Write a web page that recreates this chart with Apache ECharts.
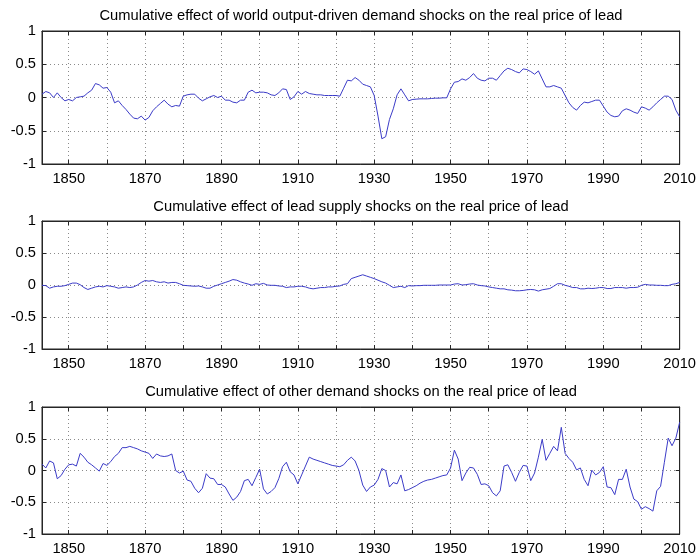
<!DOCTYPE html>
<html>
<head>
<meta charset="utf-8">
<script src="https://cdn.jsdelivr.net/npm/echarts@6/dist/echarts.min.js"></script>
<style>
html,body{margin:0;padding:0;background:#fff;}
#chart{width:699px;height:558px;}
</style>
</head>
<body>
<div id="chart"></div>
<script>
// Data: annual values, first year 1843, last year 2010
var startYear = 1843;
var endYear = 2010;

var titles = [
  'Cumulative effect of world output-driven demand shocks on the real price of lead',
  'Cumulative effect of lead supply shocks on the real price of lead',
  'Cumulative effect of other demand shocks on the real price of lead'
];

var yTicks = [-1, -0.5, 0, 0.5, 1];

var worldOutputDemand = [
  0.05, 0.09, 0.07, 0.00, 0.07, 0.00, -0.05,
  -0.03, -0.05, 0.00, 0.01, 0.02, 0.07, 0.11, 0.21, 0.19, 0.14,
  0.15, 0.08, -0.08, -0.05, -0.12, -0.18, -0.25, -0.31, -0.32, -0.28,
  -0.34, -0.30, -0.20, -0.14, -0.09, -0.04, -0.10, -0.14, -0.12, -0.13,
  0.02, 0.04, 0.05, 0.05, -0.01, -0.05, -0.02, 0.01, 0.03, 0.00,
  0.02, -0.04, -0.04, -0.07, -0.08, -0.04, -0.04, 0.08, 0.11, 0.07,
  0.08, 0.08, 0.07, 0.04, 0.03, 0.07, 0.13, 0.12, -0.03, 0.01,
  0.09, 0.05, 0.09, 0.06, 0.05, 0.04, 0.04, 0.03, 0.03, 0.03,
  0.03, 0.02, 0.14, 0.26, 0.25, 0.30, 0.26, 0.20, 0.18, 0.16,
  0.03, -0.28, -0.62, -0.59, -0.33, -0.17, 0.04, 0.13, 0.04, -0.05,
  -0.03, -0.025, -0.02, -0.02, -0.02, -0.015, -0.01, -0.01, -0.005, -0.005,
  0.13, 0.23, 0.24, 0.28, 0.26, 0.30, 0.36, 0.29, 0.26, 0.25,
  0.29, 0.29, 0.26, 0.33, 0.40, 0.44, 0.42, 0.39, 0.37, 0.43,
  0.42, 0.39, 0.35, 0.40, 0.28, 0.16, 0.16, 0.18, 0.16, 0.14,
  0.03, -0.08, -0.15, -0.19, -0.12, -0.07, -0.08, -0.06, -0.04, -0.04,
  -0.13, -0.22, -0.27, -0.29, -0.28, -0.20, -0.17, -0.19, -0.22, -0.24,
  -0.14, -0.16, -0.19, -0.14, -0.08, -0.03, 0.02, 0.02, -0.03, -0.19, -0.29
];

var leadSupply = [
  -0.005, -0.01, -0.05, -0.03, -0.02, -0.02, -0.01,
  0.01, 0.03, 0.03, 0.005, -0.04, -0.07, -0.05, -0.03, -0.02, -0.03,
  -0.01, -0.02, -0.03, -0.05, -0.04, -0.03, -0.04, -0.03, 0.00, 0.04,
  0.07, 0.06, 0.07, 0.05, 0.04, 0.05, 0.03, 0.04, 0.04, 0.02,
  -0.005, -0.01, -0.015, -0.02, -0.015, -0.03, -0.05, -0.05, -0.02, 0.00,
  0.02, 0.04, 0.06, 0.085, 0.075, 0.05, 0.03, 0.015, -0.005, 0.02,
  0.01, 0.025, 0.00, -0.005, -0.005, -0.015, -0.02, -0.04, -0.03, -0.03,
  -0.02, -0.02, -0.03, -0.05, -0.06, -0.05, -0.04, -0.04, -0.03, -0.03,
  -0.02, -0.015, 0.01, 0.02, 0.10, 0.12, 0.14, 0.16, 0.14, 0.12,
  0.10, 0.075, 0.05, 0.03, -0.005, -0.04, -0.03, -0.02, -0.04, -0.01,
  -0.015, -0.01, -0.01, -0.005, -0.005, -0.005, -0.005, 0.00, 0.00, 0.00,
  0.00, 0.015, 0.02, 0.00, 0.005, 0.015, 0.02, 0.00, -0.01, -0.015,
  -0.03, -0.04, -0.05, -0.06, -0.06, -0.075, -0.08, -0.09, -0.09, -0.085,
  -0.075, -0.07, -0.075, -0.095, -0.075, -0.065, -0.055, -0.02, 0.02, 0.02,
  -0.005, -0.02, -0.04, -0.04, -0.06, -0.06, -0.05, -0.055, -0.05, -0.04,
  -0.04, -0.055, -0.055, -0.04, -0.04, -0.04, -0.05, -0.04, -0.04, -0.035,
  -0.005, 0.01, 0.00, 0.00, -0.005, -0.005, -0.01, -0.01, 0.01, 0.02, 0.04
];

var otherDemand = [
  0.10, 0.04, 0.15, 0.12, -0.13, -0.08, 0.02,
  0.09, 0.10, 0.07, 0.27, 0.21, 0.13, 0.09, 0.04, -0.01, 0.11,
  0.08, 0.14, 0.22, 0.27, 0.36, 0.36, 0.38, 0.36, 0.34, 0.31,
  0.29, 0.27, 0.19, 0.26, 0.23, 0.22, 0.23, 0.26, 0.00, -0.04,
  -0.01, -0.15, -0.17, -0.28, -0.35, -0.28, -0.05, -0.12, -0.13, -0.22,
  -0.22, -0.26, -0.37, -0.47, -0.42, -0.33, -0.16, -0.14, -0.24, -0.11,
  0.02, -0.29, -0.37, -0.33, -0.27, -0.13, 0.06, 0.13, -0.02, -0.07,
  -0.21, -0.07, 0.07, 0.21, 0.18, 0.16, 0.14, 0.12, 0.10, 0.08,
  0.07, 0.06, 0.09, 0.16, 0.21, 0.15, 0.00, -0.23, -0.33, -0.26,
  -0.23, -0.14, 0.03, 0.00, -0.26, -0.19, -0.21, -0.07, -0.32, -0.30,
  -0.27, -0.24, -0.20, -0.17, -0.15, -0.14, -0.12, -0.10, -0.08, -0.07,
  0.04, 0.32, 0.18, -0.16, -0.04, 0.05, 0.04, -0.06, -0.22, -0.21,
  -0.24, -0.35, -0.40, -0.32, 0.07, 0.09, -0.03, -0.17, -0.03, 0.08,
  0.07, -0.16, -0.04, 0.21, 0.49, 0.16, 0.27, 0.38, 0.31, 0.68,
  0.27, 0.19, 0.13, 0.01, 0.04, -0.14, -0.24, 0.005, -0.07, -0.03,
  0.06, -0.26, -0.27, -0.38, -0.14, -0.14, 0.02, -0.26, -0.45, -0.49,
  -0.61, -0.57, -0.60, -0.64, -0.32, -0.25, 0.13, 0.51, 0.39, 0.51, 0.76
];

var seriesValues = [worldOutputDemand, leadSupply, otherDemand];

function toPairs(vals) {
  return vals.map(function (v, i) { return [startYear + i, v]; });
}

var grids = [
  {left: 42, width: 638, top: 31, height: 133},
  {left: 42, width: 638, top: 221, height: 128},
  {left: 42, width: 638, top: 407, height: 127}
];
var titleTops = [8, 199, 384];

var FONT = 'Liberation Sans, Arial, Helvetica, sans-serif';
var frameColor = '#262626';
var gridColor = '#8a8a8a';

function xAxisDef(i, mirror) {
  return {
    type: 'value',
    gridIndex: i,
    position: mirror ? 'top' : 'bottom',
    min: startYear,
    max: endYear,
    splitNumber: 17,
    axisLine: {show: true, onZero: false, lineStyle: {color: frameColor, width: 1}},
    axisTick: {show: true, inside: true, length: 4, lineStyle: {color: frameColor}},
    axisLabel: {
      show: !mirror,
      margin: 7,
      fontFamily: FONT,
      fontSize: 14.7,
      color: '#000',
      formatter: function (v) { return (Math.round(v) % 20 === 10) ? String(Math.round(v)) : ''; }
    },
    splitLine: {show: !mirror, lineStyle: {color: gridColor, type: [1, 3], width: 1}}
  };
}

function yAxisDef(i, mirror) {
  return {
    type: 'value',
    gridIndex: i,
    position: mirror ? 'right' : 'left',
    min: yTicks[0],
    max: yTicks[yTicks.length - 1],
    interval: 0.5,
    axisLine: {show: true, onZero: false, lineStyle: {color: frameColor, width: 1}},
    axisTick: {show: true, inside: true, length: 4, lineStyle: {color: frameColor}},
    axisLabel: {
      show: !mirror,
      margin: 6,
      fontFamily: FONT,
      fontSize: 14.7,
      color: '#000'
    },
    splitLine: {show: !mirror, lineStyle: {color: gridColor, type: [1, 3], width: 1}}
  };
}

var xAxes = [], yAxes = [];
grids.forEach(function (g, i) {
  xAxes.push(xAxisDef(i, false));
  yAxes.push(yAxisDef(i, false));
});
grids.forEach(function (g, i) {
  xAxes.push(xAxisDef(i, true));
  yAxes.push(yAxisDef(i, true));
});

var option = {
  animation: false,
  backgroundColor: '#ffffff',
  title: titles.map(function (t, i) {
    return {
      text: t,
      left: 361,
      textAlign: 'center',
      top: titleTops[i],
      padding: 0,
      textStyle: {fontFamily: FONT, fontSize: 14.7, fontWeight: 'normal', color: '#000'}
    };
  }),
  grid: grids.map(function (g) {
    return Object.assign({show: true, borderColor: frameColor, borderWidth: 1, backgroundColor: 'transparent'}, g);
  }),
  xAxis: xAxes,
  yAxis: yAxes,
  series: seriesValues.map(function (vals, i) {
    return {
      type: 'line',
      xAxisIndex: i,
      yAxisIndex: i,
      data: toPairs(vals),
      showSymbol: false,
      symbol: 'none',
      lineStyle: {color: '#3c3cc8', width: 1},
      silent: true
    };
  })
};

var chart = echarts.init(document.getElementById('chart'), null, {renderer: 'canvas'});
chart.setOption(option);
</script>
</body>
</html>
